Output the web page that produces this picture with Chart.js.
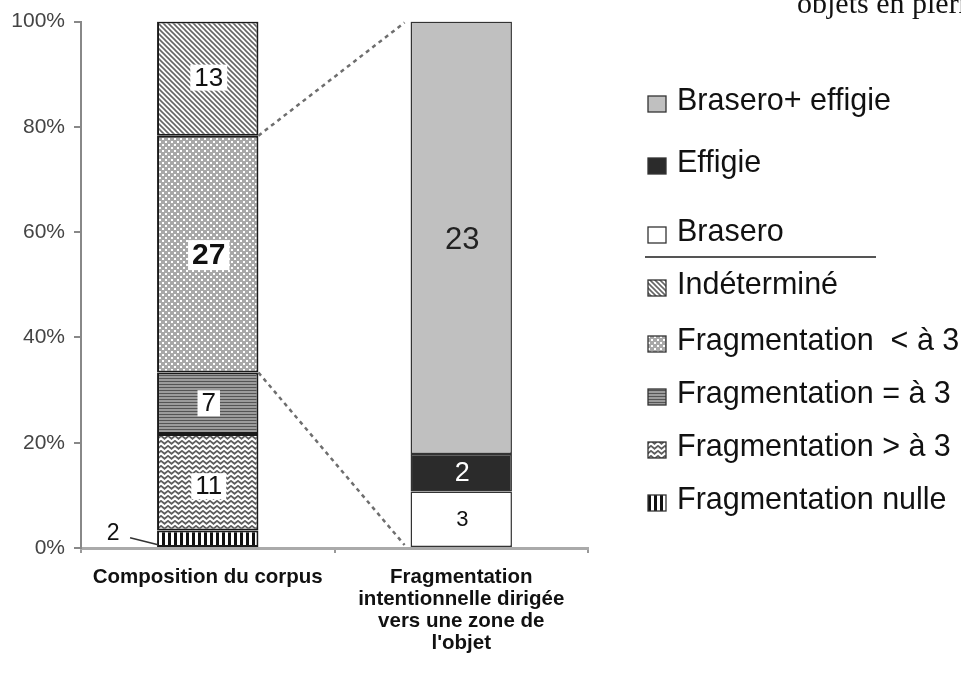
<!DOCTYPE html>
<html>
<head>
<meta charset="utf-8">
<script src="https://cdn.jsdelivr.net/npm/chart.js@4/dist/chart.umd.min.js"></script>
<style>
  html, body { margin: 0; padding: 0; background: #fff; }
  #wrap { position: relative; width: 961px; height: 675px; overflow: hidden; }
  canvas { display: block; }
</style>
</head>
<body>
<div id="wrap"><canvas id="c" width="961" height="675"></canvas></div>
<script>
// ---- data ----
const categories = [
  ['Composition du corpus'],
  ['Fragmentation', 'intentionnelle dirigée', 'vers une zone de', "l'objet"]
];
const corpusSeries = ['Fragmentation nulle', 'Fragmentation > à 3', 'Fragmentation = à 3', 'Fragmentation  < à 3', 'Indéterminé'];
const corpusCounts = [2, 11, 7, 27, 13];
const zoneSeries = ['Brasero', 'Effigie', 'Brasero+ effigie'];
const zoneCounts = [3, 2, 23];
const legendOrder = ['Brasero+ effigie', 'Effigie', 'Brasero', '|', 'Indéterminé', 'Fragmentation  < à 3', 'Fragmentation = à 3', 'Fragmentation > à 3', 'Fragmentation nulle'];
const yTickValues = [0, 20, 40, 60, 80, 100];
const cornerText = 'objets en pierre';

// ---- patterns ----
function makePattern(w, h, draw) {
  const c = document.createElement('canvas');
  c.width = w; c.height = h;
  const g = c.getContext('2d');
  draw(g, w, h);
  return g.createPattern(c, 'repeat');
}
const patNulle = makePattern(6, 1, (g) => { g.fillStyle = '#fff'; g.fillRect(0, 0, 6, 1); g.fillStyle = '#111'; g.fillRect(0, 0, 3, 1); });
const patSup = makePattern(7, 5, (g) => {
  g.fillStyle = '#fff'; g.fillRect(0, 0, 7, 5);
  g.strokeStyle = '#5e5e5e'; g.lineWidth = 1.8;
  g.beginPath(); g.moveTo(-0.5, 0.5); g.lineTo(3.5, 3.8); g.lineTo(7.5, 0.5); g.stroke();
});
const patEq = makePattern(1, 3, (g) => { g.fillStyle = '#9c9c9c'; g.fillRect(0, 0, 1, 3); g.fillStyle = '#555'; g.fillRect(0, 0, 1, 1); });
const patInf = makePattern(6, 6, (g) => {
  g.fillStyle = '#a8a8a8'; g.fillRect(0, 0, 6, 6);
  g.fillStyle = '#fff'; g.fillRect(0, 0, 2, 2); g.fillRect(3, 3, 2, 2);
});
const patInd = makePattern(5, 5, (g) => {
  g.fillStyle = '#fff'; g.fillRect(0, 0, 5, 5);
  g.strokeStyle = '#666'; g.lineWidth = 1.6;
  g.beginPath();
  g.moveTo(-1, -1); g.lineTo(6, 6);
  g.moveTo(4, -1); g.lineTo(6, 1);
  g.moveTo(-1, 4); g.lineTo(1, 6);
  g.stroke();
});

const styleMap = {
  'Fragmentation nulle': { fill: patNulle, border: '#1a1a1a' },
  'Fragmentation > à 3': { fill: patSup, border: '#1a1a1a' },
  'Fragmentation = à 3': { fill: patEq, border: '#1a1a1a' },
  'Fragmentation  < à 3': { fill: patInf, border: '#1a1a1a' },
  'Indéterminé': { fill: patInd, border: '#1a1a1a' },
  'Brasero': { fill: '#ffffff', border: '#333' },
  'Effigie': { fill: '#2b2b2b', border: '#333' },
  'Brasero+ effigie': { fill: '#c0c0c0', border: '#333' }
};
// label styles per series
const labelStyle = {
  'Fragmentation nulle': { outside: true, font: '23px "Liberation Sans", Arial', color: '#111' },
  'Fragmentation > à 3': { font: '26px "Liberation Sans", Arial', color: '#111', box: true, dy: 4 },
  'Fragmentation = à 3': { font: '26px "Liberation Sans", Arial', color: '#111', box: true, dy: 0 },
  'Fragmentation  < à 3': { font: 'bold 30px "Liberation Sans", Arial', color: '#111', box: true, dy: 1 },
  'Indéterminé': { font: '26px "Liberation Sans", Arial', color: '#111', box: true, dy: -1 },
  'Brasero': { font: '22px "Liberation Sans", Arial', color: '#111', dy: 0 },
  'Effigie': { font: '27px "Liberation Sans", Arial', color: '#fff', dy: 0 },
  'Brasero+ effigie': { font: '31px "Liberation Sans", Arial', color: '#222', dy: 2 }
};

const corpusTotal = corpusCounts.reduce((a, b) => a + b, 0);
const zoneTotal = zoneCounts.reduce((a, b) => a + b, 0);

const datasets = [];
corpusSeries.forEach((name, i) => {
  datasets.push({
    label: name, count: corpusCounts[i],
    data: [corpusCounts[i] / corpusTotal * 100, null],
    backgroundColor: styleMap[name].fill, borderColor: styleMap[name].border,
    borderWidth: 2, borderSkipped: false, stack: 's'
  });
});
zoneSeries.forEach((name, i) => {
  datasets.push({
    label: name, count: zoneCounts[i],
    data: [null, zoneCounts[i] / zoneTotal * 100],
    backgroundColor: styleMap[name].fill, borderColor: styleMap[name].border,
    borderWidth: 1.5, borderSkipped: false, stack: 's'
  });
});

function dsIndex(chart, name) { return chart.data.datasets.findIndex(d => d.label === name); }

const overlay = {
  id: 'overlay',
  afterDatasetsDraw(chart) {
    const ctx = chart.ctx;
    const ys = chart.scales.y;
    ctx.save();
    // connectors
    const inf = chart.getDatasetMeta(dsIndex(chart, 'Fragmentation  < à 3')).data[0];
    const eq = chart.getDatasetMeta(dsIndex(chart, 'Fragmentation = à 3')).data[0];
    const top2 = chart.getDatasetMeta(dsIndex(chart, 'Brasero+ effigie')).data[1];
    const rightEdge = inf.x + inf.width / 2;
    const leftEdge2 = top2.x - top2.width / 2 - 6;
    ctx.strokeStyle = '#6e6e6e'; ctx.lineWidth = 2.5; ctx.setLineDash([4, 4]);
    ctx.beginPath();
    ctx.moveTo(rightEdge, inf.y); ctx.lineTo(leftEdge2, ys.getPixelForValue(100) + 1);
    ctx.moveTo(rightEdge, eq.y); ctx.lineTo(leftEdge2, ys.getPixelForValue(0) - 3);
    ctx.stroke();
    ctx.setLineDash([]);
    // value labels
    chart.data.datasets.forEach((ds, di) => {
      const meta = chart.getDatasetMeta(di);
      const idx = ds.data[0] != null ? 0 : 1;
      const el = meta.data[idx];
      const st = labelStyle[ds.label];
      const txt = String(ds.count);
      ctx.font = st.font;
      ctx.textAlign = 'center'; ctx.textBaseline = 'middle';
      if (st.outside) {
        const left = el.x - el.width / 2;
        const lx = left - 44;
        const cy = (el.y + el.base) / 2;
        ctx.fillStyle = st.color;
        ctx.fillText(txt, lx, cy - 5);
        ctx.strokeStyle = '#333'; ctx.lineWidth = 1.5;
        ctx.beginPath(); ctx.moveTo(lx + 17, cy - 1); ctx.lineTo(left + 1, cy + 6); ctx.stroke();
        return;
      }
      const cx = el.x + 1;
      const cy = (el.y + el.base) / 2 + (st.dy || 0);
      if (st.box) {
        const w = ctx.measureText(txt).width;
        const h = parseInt(st.font.match(/(\d+)px/)[1], 10);
        ctx.fillStyle = '#fff';
        ctx.fillRect(cx - w / 2 - 4, cy - h * 0.5, w + 8, h * 1.0);
      }
      ctx.fillStyle = st.color;
      ctx.fillText(txt, cx, cy + 1);
    });
    ctx.restore();
  },
  afterDraw(chart) {
    const ctx = chart.ctx;
    ctx.save();
    // legend
    const rowsY = [101, 163, 232, 257, 285, 341, 394, 447, 500];
    legendOrder.forEach((name, i) => {
      const y = rowsY[i];
      if (name === '|') {
        ctx.strokeStyle = '#555'; ctx.lineWidth = 2;
        ctx.beginPath(); ctx.moveTo(645, y); ctx.lineTo(876, y); ctx.stroke();
        return;
      }
      const st = styleMap[name];
      ctx.fillStyle = st.fill;
      ctx.fillRect(648, y - 5, 18, 16);
      ctx.strokeStyle = '#333'; ctx.lineWidth = 1.3;
      ctx.strokeRect(648, y - 5, 18, 16);
      ctx.fillStyle = '#111';
      ctx.font = '30.5px "Liberation Sans", Arial';
      ctx.textAlign = 'left'; ctx.textBaseline = 'middle';
      ctx.fillText(name, 677, y + 1);
    });
    // corner text
    ctx.fillStyle = '#111';
    ctx.font = '30px "Liberation Serif", "Times New Roman", serif';
    ctx.textAlign = 'left'; ctx.textBaseline = 'alphabetic';
    ctx.fillText(cornerText, 797, 13);
    ctx.restore();
  }
};

new Chart(document.getElementById('c'), {
  type: 'bar',
  data: { labels: categories, datasets },
  options: {
    responsive: false,
    animation: false,
    devicePixelRatio: 1,
    layout: { padding: { left: 0, right: 373, top: 21, bottom: 0 } },
    barPercentage: 0.4,
    categoryPercentage: 1.0,
    plugins: { legend: { display: false }, tooltip: { enabled: false } },
    scales: {
      x: {
        stacked: true,
        ticks: {
          color: '#111', autoSkip: false, maxRotation: 0, padding: 13,
          font: { family: '"Liberation Sans", Arial', size: 20.5, weight: 'bold', lineHeight: '22px' }
        },
        grid: { drawOnChartArea: false, drawTicks: true, tickLength: 5, color: '#999', lineWidth: 2, offset: true },
        border: { display: true, color: '#aaa', width: 3 },
        afterFit(s) { s.height = 127; }
      },
      y: {
        stacked: true, min: 0, max: 100,
        afterBuildTicks(s) { s.ticks = yTickValues.map(v => ({ value: v })); },
        ticks: {
          callback: v => v + '%', color: '#444', padding: 9,
          font: { family: '"Liberation Sans", Arial', size: 21 }
        },
        grid: { drawOnChartArea: false, drawTicks: true, tickLength: 7, color: '#888', lineWidth: 2 },
        border: { display: true, color: '#888', width: 2 },
        afterFit(s) { s.width = 81; }
      }
    }
  },
  plugins: [overlay]
});
</script>
</body>
</html>
